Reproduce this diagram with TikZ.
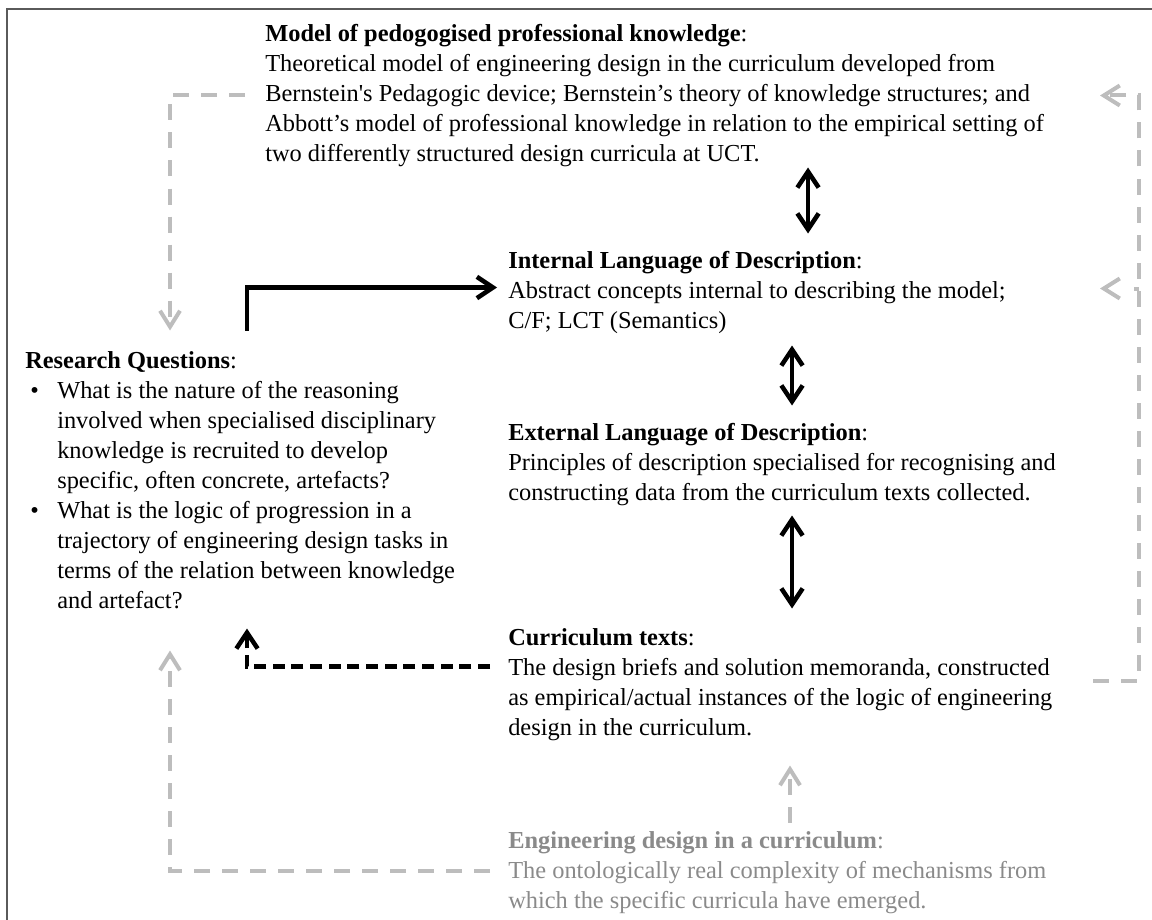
\documentclass[tikz,border=0pt]{standalone}
\usepackage{fontspec}
\setmainfont{Liberation Serif}
\usetikzlibrary{arrows.meta}
\definecolor{lgray}{HTML}{BDBDBD}
\definecolor{tgray}{HTML}{8A8A8A}
\definecolor{bordergray}{HTML}{5A5A5A}
\newcommand{\rqbul}{\makebox[24pt][l]{\hspace{3.75pt}\textbullet}}
\newcommand{\rqind}{\hspace*{24pt}}
\tikzset{
  txt/.style={anchor=north west, inner sep=0pt, align=left, font=\fontsize{18.3}{22.5}\selectfont},
  gdash/.style={draw=lgray, line width=3pt, dash pattern=on 12pt off 9pt},
  gtip/.style={-{Straight Barb[length=12pt,width=15pt,line width=3pt]}},
  bdash/.style={draw=black, line width=3.4pt, dash pattern=on 9pt off 5pt},
  btip/.style={-{Straight Barb[length=12pt,width=16pt,line width=3.4pt]}},
  bsolid/.style={draw=black, line width=3.6pt},
  dbl/.style={draw=black, line width=3.4pt, {Straight Barb[length=12pt,width=16pt]}-{Straight Barb[length=12pt,width=16pt]}}
}
\begin{document}
\begin{tikzpicture}[x=0.75pt,y=-0.75pt]
\useasboundingbox (0,0) rectangle (1152,920);
\draw[bordergray, line width=1.2pt] (7,930) -- (7,9) -- (1160,9);

\node[txt] (model) at (265,20.5) {\strut\textbf{Model of pedogogised professional knowledge}:\\
Theoretical model of engineering design in the curriculum developed from\\
Bernstein\textquotesingle s Pedagogic device; Bernstein’s theory of knowledge structures; and\\
Abbott’s model of professional knowledge in relation to the empirical setting of\\
two differently structured design curricula at UCT.};

\node[txt] (ild) at (508,247.5) {\strut\textbf{Internal Language of Description}:\\
Abstract concepts internal to describing the model;\\
C/F; LCT (Semantics)};

\node[txt] (eld) at (508,419.5) {\strut\textbf{External Language of Description}:\\
Principles of description specialised for recognising and\\
constructing data from the curriculum texts collected.};

\node[txt] (ct) at (508,624.5) {\strut\textbf{Curriculum texts}:\\
The design briefs and solution memoranda, constructed\\
as empirical/actual instances of the logic of engineering\\
design in the curriculum.};

\node[txt, text=tgray] (eng) at (508,827.5) {\strut\textbf{Engineering design in a curriculum}:\\
The ontologically real complexity of mechanisms from\\
which the specific curricula have emerged.};

\node[txt] (rq) at (25,347.5) {\strut\textbf{Research Questions}:\\
\rqbul What is the nature of the reasoning\\
\rqind involved when specialised disciplinary\\
\rqind knowledge is recruited to develop\\
\rqind specific, often concrete, artefacts?\\
\rqbul What is the logic of progression in a\\
\rqind trajectory of engineering design tasks in\\
\rqind terms of the relation between knowledge\\
\rqind and artefact?};

% double arrows
\draw[dbl] ([shift={(543,147)}]model.north west) -- ([shift={(300,-14)}]ild.north west);
\draw[dbl] ([shift={(284,98)}]ild.north west) -- ([shift={(284,-14)}]eld.north west);
\draw[dbl] ([shift={(284,96)}]eld.north west) -- ([shift={(284,-16)}]ct.north west);

% black solid L arrow: research questions -> internal language
\draw[bsolid, btip] ([shift={(222,-17)}]rq.north west) |- ([shift={(-11,40)}]ild.north west);

% black dashed: curriculum texts -> research questions
\draw[bdash, btip] ([shift={(-18,42)}]ct.north west) -| ([shift={(222,281)}]rq.north west);

% gray dashed: model -> research questions
\draw[gdash, gtip] ([shift={(-20,75)}]model.north west) -| ([shift={(145,-17)}]rq.north west);

% gray dashed: engineering design -> research questions
\draw[gdash, gtip] ([shift={(-18,43)}]eng.north west) -| ([shift={(145,303)}]rq.north west);

% gray dashed: engineering design -> curriculum texts
\draw[gdash, gtip] ([shift={(282,-5)}]eng.north west) -- ([shift={(282,141)}]ct.north west);

% gray dashed: curriculum texts -> model (right loop)
\draw[gdash, gtip] ([shift={(585,56)}]ct.north west) -| ([shift={(874,75)}]model.north west) -- ([shift={(835,75)}]model.north west);
% branch to internal language
\draw[gdash, gtip, dash pattern=on 4pt off 20pt] ([shift={(631,41)}]ild.north west) -- ([shift={(592,41)}]ild.north west);
\end{tikzpicture}
\end{document}
